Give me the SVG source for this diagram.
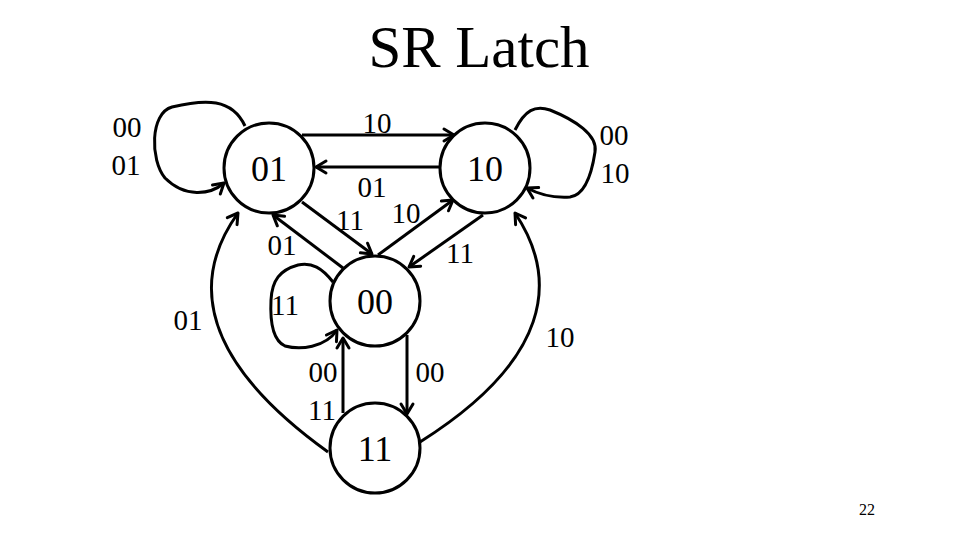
<svg xmlns="http://www.w3.org/2000/svg" width="960" height="540" viewBox="0 0 960 540">
<style>
.node{fill:#fff;stroke:#000;stroke-width:3}
.edge{fill:none;stroke:#000;stroke-width:3;marker-end:url(#arr)}
.nl{font-family:"Liberation Serif",serif;font-size:36px;text-anchor:middle;fill:#000}
.el{font-family:"Liberation Serif",serif;font-size:29px;text-anchor:middle;fill:#000}
</style>
<defs>
<marker id="arr" markerUnits="userSpaceOnUse" markerWidth="20" markerHeight="20" viewBox="-12 -10 14 20" refX="0" refY="0" orient="auto">
<path d="M-10,-6 L0,0 L-10,6" fill="none" stroke="#000" stroke-width="3" stroke-linecap="round" stroke-linejoin="round"/>
</marker>
</defs>
<rect width="960" height="540" fill="#fff"/>
<text x="479" y="67" font-family="Liberation Serif, serif" font-size="59" text-anchor="middle">SR Latch</text>
<g id="connectors">
<path class="edge" d="M302,135 L454,135"/>
<path class="edge" d="M440,167 L316,167"/>
<path class="edge" d="M302,202 L372,254"/>
<path class="edge" d="M343,268 L273,215"/>
<path class="edge" d="M378,255 L453,200"/>
<path class="edge" d="M483,215 L409,267"/>
<path class="edge" d="M407,335 L407,414"/>
<path class="edge" d="M343,413 L343,338"/>
<path class="edge" d="M328,452 C200,360 190,280 238,213"/>
<path class="edge" d="M420,442 C550,360 560,280 515,213"/>
<path class="edge" d="M245,126 C232,98 205,99 172,107 C150,113 150,160 165,178 C185,198 210,195 224,183"/>
<path class="edge" d="M515,130 C525,110 535,105 550,110 C575,120 598,135 595,152 C592,172 585,195 570,197 C555,198 540,195 527,188"/>
<path class="edge" d="M333,282 C322,268 312,262 298,265 C280,270 272,280 271,300 C270,320 272,340 285,346 C300,350 325,348 337,330"/>
</g>
<g id="n01"><circle class="node" cx="269" cy="168" r="45"/><text class="nl" x="269" y="181">01</text></g>
<g id="n10"><circle class="node" cx="485" cy="168" r="45"/><text class="nl" x="485" y="181">10</text></g>
<g id="n00"><circle class="node" cx="375" cy="301" r="45"/><text class="nl" x="375" y="314">00</text></g>
<g id="n11"><circle class="node" cx="375" cy="448" r="45"/><text class="nl" x="375" y="461">11</text></g>
<g id="labels">
<text class="el" x="127" y="137">00</text>
<text class="el" x="126" y="175">01</text>
<text class="el" x="377" y="133">10</text>
<text class="el" x="372" y="197">01</text>
<text class="el" x="350" y="230">11</text>
<text class="el" x="406" y="223">10</text>
<text class="el" x="282" y="255">01</text>
<text class="el" x="460" y="263">11</text>
<text class="el" x="614" y="145">00</text>
<text class="el" x="615" y="183">10</text>
<text class="el" x="285" y="315">11</text>
<text class="el" x="188" y="330">01</text>
<text class="el" x="560" y="347">10</text>
<text class="el" x="323" y="382">00</text>
<text class="el" x="322" y="420">11</text>
<text class="el" x="430" y="382">00</text>
</g>
<text x="867" y="515" font-family="Liberation Serif, serif" font-size="16" text-anchor="middle">22</text>
</svg>
